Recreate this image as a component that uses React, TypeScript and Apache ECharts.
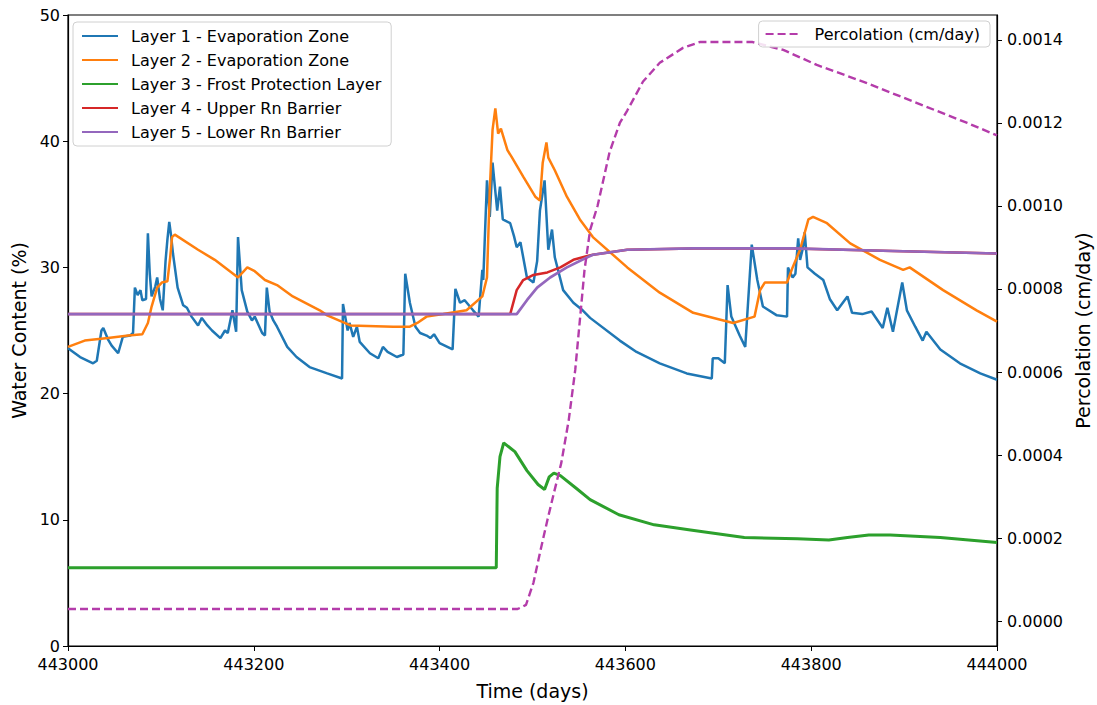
import React, { useEffect, useRef } from "react";
import * as echarts from "echarts";

const xTicks = [443000, 443200, 443400, 443600, 443800, 444000];
const leftTicks = [0, 10, 20, 30, 40, 50];
const rightTicks = [0, 0.0002, 0.0004, 0.0006, 0.0008, 0.001, 0.0012, 0.0014];

const layer1: [number, number][] = [
  [443000, 23.6], [443013, 22.9], [443027, 22.4], [443031, 22.6], [443036, 25.0], [443038, 25.2],
  [443043, 24.3], [443047, 23.8], [443054, 23.2], [443059, 24.5], [443067, 24.6], [443070, 24.8],
  [443072, 28.4], [443075, 27.8], [443078, 28.2], [443080, 27.4], [443084, 27.5], [443086, 32.7],
  [443088, 29.5], [443090, 27.7], [443094, 28.5], [443096, 29.2], [443099, 27.5], [443102, 26.6],
  [443105, 30.5], [443107, 32.2], [443109, 33.6], [443111, 32.5], [443113, 31.1], [443118, 28.4],
  [443124, 27.0], [443128, 26.8], [443133, 26.1], [443140, 25.4], [443144, 26.0], [443150, 25.4],
  [443155, 25.0], [443164, 24.4], [443169, 25.0], [443172, 24.8], [443177, 26.6], [443181, 24.9],
  [443183, 32.4], [443187, 28.2], [443193, 26.5], [443198, 25.8], [443201, 26.1], [443209, 24.8],
  [443212, 24.6], [443214, 28.4], [443217, 26.5], [443221, 25.8], [443225, 25.3], [443236, 23.7],
  [443246, 22.9], [443260, 22.1], [443279, 21.6], [443295, 21.2], [443296, 27.1], [443301, 25.0],
  [443303, 25.6], [443307, 24.5], [443311, 25.3], [443314, 24.1], [443325, 23.2], [443334, 22.8],
  [443339, 23.7], [443344, 23.3], [443354, 22.9], [443361, 23.1], [443363, 29.5], [443368, 27.2],
  [443374, 25.3], [443379, 24.8], [443386, 24.6], [443390, 24.4], [443394, 24.7], [443400, 24.0],
  [443414, 23.5], [443417, 28.3], [443422, 27.2], [443427, 27.4], [443436, 26.6], [443442, 26.1],
  [443446, 29.8], [443447, 29.0], [443451, 36.9], [443454, 34.0], [443457, 38.3], [443462, 34.5],
  [443465, 36.4], [443468, 33.8], [443476, 33.5], [443480, 32.5], [443483, 31.6], [443487, 32.0],
  [443494, 29.2], [443501, 28.8], [443505, 30.5], [443508, 34.5], [443513, 36.9], [443517, 31.4],
  [443521, 33.0], [443524, 30.8], [443533, 28.2], [443544, 27.2], [443554, 26.6], [443562, 26.0],
  [443594, 24.2], [443612, 23.3], [443637, 22.4], [443666, 21.6], [443693, 21.2], [443694, 22.8],
  [443700, 22.8], [443707, 22.4], [443710, 28.6], [443714, 26.1], [443723, 24.6], [443729, 23.7],
  [443736, 31.8], [443742, 29.0], [443748, 26.9], [443763, 26.2], [443774, 26.1], [443775, 30.0],
  [443780, 29.2], [443783, 29.5], [443786, 32.3], [443788, 30.6], [443791, 31.5], [443793, 32.8],
  [443796, 30.0], [443804, 29.5], [443813, 29.0], [443820, 27.5], [443828, 26.6], [443839, 27.7],
  [443844, 26.4], [443855, 26.3], [443865, 26.5], [443877, 25.2], [443882, 26.8], [443888, 24.9],
  [443898, 28.8], [443903, 26.6], [443912, 25.3], [443920, 24.2], [443924, 24.9], [443939, 23.5],
  [443960, 22.4], [443982, 21.6], [444000, 21.1],
];

const layer2: [number, number][] = [
  [443000, 23.7], [443018, 24.2], [443043, 24.4], [443065, 24.6], [443080, 24.7], [443086, 25.6],
  [443090, 26.9], [443096, 28.4], [443101, 28.8], [443107, 28.9], [443110, 30.8], [443112, 32.4],
  [443115, 32.6], [443140, 31.4], [443158, 30.6], [443183, 29.2], [443193, 30.0], [443201, 29.7],
  [443212, 29.0], [443225, 28.6], [443242, 27.7], [443271, 26.6], [443279, 26.2], [443304, 25.4],
  [443350, 25.3], [443368, 25.3], [443376, 25.6], [443386, 26.1], [443404, 26.3], [443429, 26.6],
  [443446, 27.7], [443451, 29.2], [443454, 36.1], [443457, 40.9], [443460, 42.6], [443463, 40.6],
  [443466, 41.0], [443473, 39.3], [443478, 38.7], [443490, 37.2], [443503, 35.6], [443508, 35.3],
  [443511, 38.3], [443515, 39.9], [443517, 38.7], [443524, 37.7], [443537, 35.6], [443551, 33.8],
  [443565, 32.4], [443602, 30.0], [443637, 28.0], [443673, 26.4], [443716, 25.6], [443739, 26.1],
  [443745, 28.2], [443750, 28.8], [443774, 28.8], [443780, 30.0], [443788, 31.4], [443797, 33.8],
  [443802, 34.0], [443817, 33.5], [443842, 31.9], [443874, 30.6], [443899, 29.8], [443906, 30.0],
  [443942, 28.2], [443978, 26.6], [444000, 25.7],
];

const layer3: [number, number][] = [
  [443000, 6.2], [443461, 6.2], [443462, 12.5], [443465, 15.0], [443469, 16.1], [443481, 15.4],
  [443494, 13.9], [443506, 12.8], [443513, 12.4], [443518, 13.4], [443523, 13.7], [443530, 13.5],
  [443547, 12.5], [443562, 11.6], [443593, 10.4], [443631, 9.6], [443670, 9.2], [443728, 8.6],
  [443785, 8.5], [443819, 8.4], [443839, 8.6], [443862, 8.8], [443885, 8.8], [443939, 8.6],
  [444000, 8.2],
];

const layer4: [number, number][] = [
  [443000, 26.3], [443476, 26.3], [443483, 28.2], [443490, 29.0], [443501, 29.4], [443516, 29.6],
  [443530, 30.0], [443544, 30.6], [443559, 30.9], [443565, 31.0], [443602, 31.4], [443673, 31.5],
  [443780, 31.5], [443888, 31.3], [444000, 31.1],
];

const layer5: [number, number][] = [
  [443000, 26.3], [443483, 26.3], [443494, 27.4], [443505, 28.4], [443519, 29.2], [443537, 30.0],
  [443559, 30.8], [443565, 31.0], [443602, 31.4], [443673, 31.5], [443780, 31.5], [443888, 31.3],
  [444000, 31.1],
];

const percolation: [number, number][] = [
  [443000, 0.000029], [443484, 0.000029], [443489, 0.000034], [443493, 0.000039], [443501, 0.000092],
  [443508, 0.000164], [443516, 0.000243], [443523, 0.000308], [443531, 0.000381], [443539, 0.000484],
  [443546, 0.000605], [443551, 0.000725], [443556, 0.000846], [443562, 0.000942], [443570, 0.001],
  [443583, 0.00113], [443594, 0.0012], [443602, 0.00123], [443619, 0.0013], [443637, 0.001345],
  [443662, 0.001381], [443680, 0.001395], [443737, 0.001395], [443770, 0.001376], [443806, 0.00134],
  [443860, 0.001296], [443914, 0.001248], [443968, 0.0012], [444000, 0.00117],
];

const FONT = "DejaVu Sans";

export default function App() {
  const ref = useRef<HTMLDivElement>(null);
  useEffect(() => {
    const chart = echarts.init(ref.current!, null, { renderer: "svg" });
    const lineSeries = (name: string, data: [number, number][], color: string, width: number) => ({
      name,
      type: "line",
      data,
      yAxisIndex: 0,
      symbol: "none",
      showSymbol: false,
      lineStyle: { color, width },
      itemStyle: { color },
      z: 2,
    });
    const legendText = {
      fontFamily: FONT,
      fontSize: 16,
      lineHeight: 16,
      color: "#000",
      padding: [0, 0, 0, 8],
    };
    chart.setOption({
      animation: false,
      backgroundColor: "#fff",
      textStyle: { fontFamily: FONT },
      grid: {
        left: 68,
        right: 100,
        top: 15,
        bottom: 59,
        show: true,
        borderColor: "#000",
        borderWidth: 1.2,
        outerBoundsMode: "none",
      },
      legend: [
        {
          data: [
            "Layer 1 - Evaporation Zone",
            "Layer 2 - Evaporation Zone",
            "Layer 3 - Frost Protection Layer",
            "Layer 4 - Upper Rn Barrier",
            "Layer 5 - Lower Rn Barrier",
          ],
          orient: "vertical",
          left: 73,
          top: 22,
          itemWidth: 36,
          itemHeight: 14,
          itemGap: 8,
          padding: [6, 10, 6, 8],
          backgroundColor: "rgba(255,255,255,0.85)",
          borderColor: "#d0d0d0",
          borderWidth: 1,
          borderRadius: 4,
          itemStyle: { opacity: 0 },
          textStyle: legendText,
        },
        {
          data: ["Percolation (cm/day)"],
          right: 107,
          top: 21,
          itemWidth: 36,
          itemHeight: 14,
          padding: [5, 10, 5, 6],
          backgroundColor: "rgba(255,255,255,0.85)",
          borderColor: "#d0d0d0",
          borderWidth: 1,
          borderRadius: 4,
          itemStyle: { opacity: 0 },
          textStyle: legendText,
        },
      ],
      xAxis: {
        type: "value",
        min: 443000,
        max: 444000,
        interval: 200,
        name: "Time (days)",
        nameLocation: "middle",
        nameGap: 35,
        nameTextStyle: { fontFamily: FONT, fontSize: 19, color: "#000" },
        axisLine: { show: true, lineStyle: { color: "#000", width: 1.2 } },
        axisTick: { show: true, length: 5, lineStyle: { color: "#000" }, customValues: xTicks },
        axisLabel: {
          fontFamily: FONT,
          fontSize: 16,
          lineHeight: 16,
          color: "#000",
          margin: 10,
          customValues: xTicks,
          formatter: (v: number) => String(v),
        },
        splitLine: { show: false },
      },
      yAxis: [
        {
          type: "value",
          min: 0,
          max: 50,
          interval: 10,
          position: "left",
          name: "Water Content (%)",
          nameLocation: "middle",
          nameGap: 38,
          nameRotate: 90,
          nameTextStyle: { fontFamily: FONT, fontSize: 19, color: "#000" },
          axisLine: { show: true, lineStyle: { color: "#000", width: 1.2 } },
          axisTick: { show: true, length: 5, lineStyle: { color: "#000" }, customValues: leftTicks },
          axisLabel: {
            fontFamily: FONT,
            fontSize: 16,
            lineHeight: 12,
            color: "#000",
            margin: 8,
            customValues: leftTicks,
          },
          splitLine: { show: false },
        },
        {
          type: "value",
          min: -0.0000602,
          max: 0.0014602,
          position: "right",
          name: "Percolation (cm/day)",
          nameLocation: "middle",
          nameGap: 74,
          nameRotate: 90,
          nameTextStyle: { fontFamily: FONT, fontSize: 19, color: "#000" },
          axisLine: { show: true, lineStyle: { color: "#000", width: 1.2 } },
          axisTick: { show: true, length: 5, lineStyle: { color: "#000" }, customValues: rightTicks },
          axisLabel: {
            fontFamily: FONT,
            fontSize: 16,
            color: "#000",
            margin: 10,
            customValues: rightTicks,
            formatter: (v: number) => v.toFixed(4),
          },
          splitLine: { show: false },
        },
      ],
      series: [
        lineSeries("Layer 1 - Evaporation Zone", layer1, "#1f77b4", 2.5),
        lineSeries("Layer 2 - Evaporation Zone", layer2, "#ff7f0e", 2.5),
        lineSeries("Layer 3 - Frost Protection Layer", layer3, "#2ca02c", 3),
        lineSeries("Layer 4 - Upper Rn Barrier", layer4, "#d62728", 2.5),
        lineSeries("Layer 5 - Lower Rn Barrier", layer5, "#9467bd", 2.7),
        {
          name: "Percolation (cm/day)",
          type: "line",
          data: percolation,
          yAxisIndex: 1,
          symbol: "none",
          showSymbol: false,
          lineStyle: { color: "#b43caa", width: 2.4, type: [8, 4] },
          itemStyle: { color: "#b43caa" },
          z: 3,
        },
      ],
    });
    return () => chart.dispose();
  }, []);
  return (
    <div
      ref={ref}
      style={{ position: "absolute", left: 0, top: 0, width: 1097, height: 705 }}
    />
  );
}
